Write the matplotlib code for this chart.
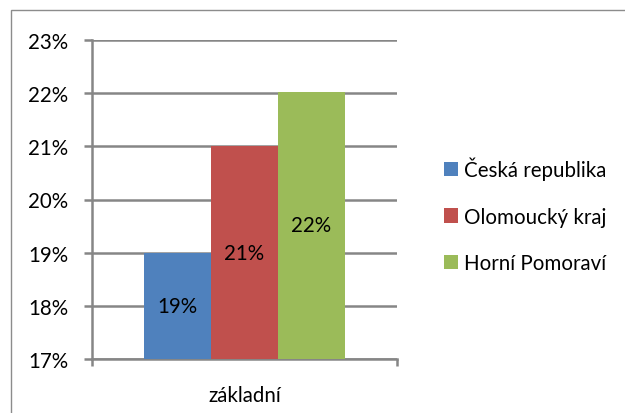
import matplotlib.pyplot as plt
from matplotlib.patches import Rectangle, Patch

plt.rcParams['font.family'] = ['Lato', 'DejaVu Sans']

category = 'základní'
series = ['Česká republika', 'Olomoucký kraj', 'Horní Pomoraví']
values = [19.0, 21.0, 22.03]
labels = ['19%', '21%', '22%']
colors = ['#4F81BD', '#C0504D', '#9BBB59']
yticks = [17, 18, 19, 20, 21, 22, 23]

grid_col = '#868686'
fs = 14.8

fig = plt.figure(figsize=(6.25, 4.14), dpi=100)
ax = fig.add_axes([92 / 625, 1 - 360 / 414, 305 / 625, 319 / 414])

# outer chart border (cropped on the right/bottom in the original)
fig.patches.append(Rectangle((11 / 625, -0.1), 1.2, 1 - 11 / 414 + 0.1,
                             transform=fig.transFigure, fill=False,
                             edgecolor='#8c8c8c', linewidth=1))

w = 67 / 305
for i, (v, lab, c) in enumerate(zip(values, labels, colors)):
    x = (i - 1) * w
    ax.bar(x, v - 17, bottom=17, width=w, color=c, zorder=3)
    ax.text(x, 17 + (v - 17) / 2, lab, ha='center', va='center',
            fontsize=fs, zorder=4)

ax.set_xlim(-0.5, 0.5)
ax.set_ylim(17, 23)
ax.set_yticks(yticks)
ax.set_yticklabels([f'{t}%' for t in yticks], fontsize=fs)
ax.yaxis.grid(True, color=grid_col, linewidth=1.8, zorder=1)
ax.set_xticks([-0.5, 0.5])
ax.set_xticklabels([])
ax.text(0.5, -0.08, category, transform=ax.transAxes, ha='center', va='top',
        fontsize=fs)

for s in ['top', 'right']:
    ax.spines[s].set_visible(False)
for s in ['left', 'bottom']:
    ax.spines[s].set_color(grid_col)
    ax.spines[s].set_linewidth(1.8)
ax.tick_params(axis='y', direction='out', length=6, width=1.8, color=grid_col, pad=11)
ax.tick_params(axis='x', direction='out', length=5, width=1.8, color=grid_col)

handles = [Patch(facecolor=c, edgecolor='none') for c in colors]
fig.legend(handles, series, loc='center left', bbox_to_anchor=(425 / 625, 1 - 216 / 414),
           frameon=False, fontsize=fs, handlelength=0.7, handleheight=0.7,
           handletextpad=0.3, labelspacing=1.3)

fig.savefig('out.png', dpi=100)
